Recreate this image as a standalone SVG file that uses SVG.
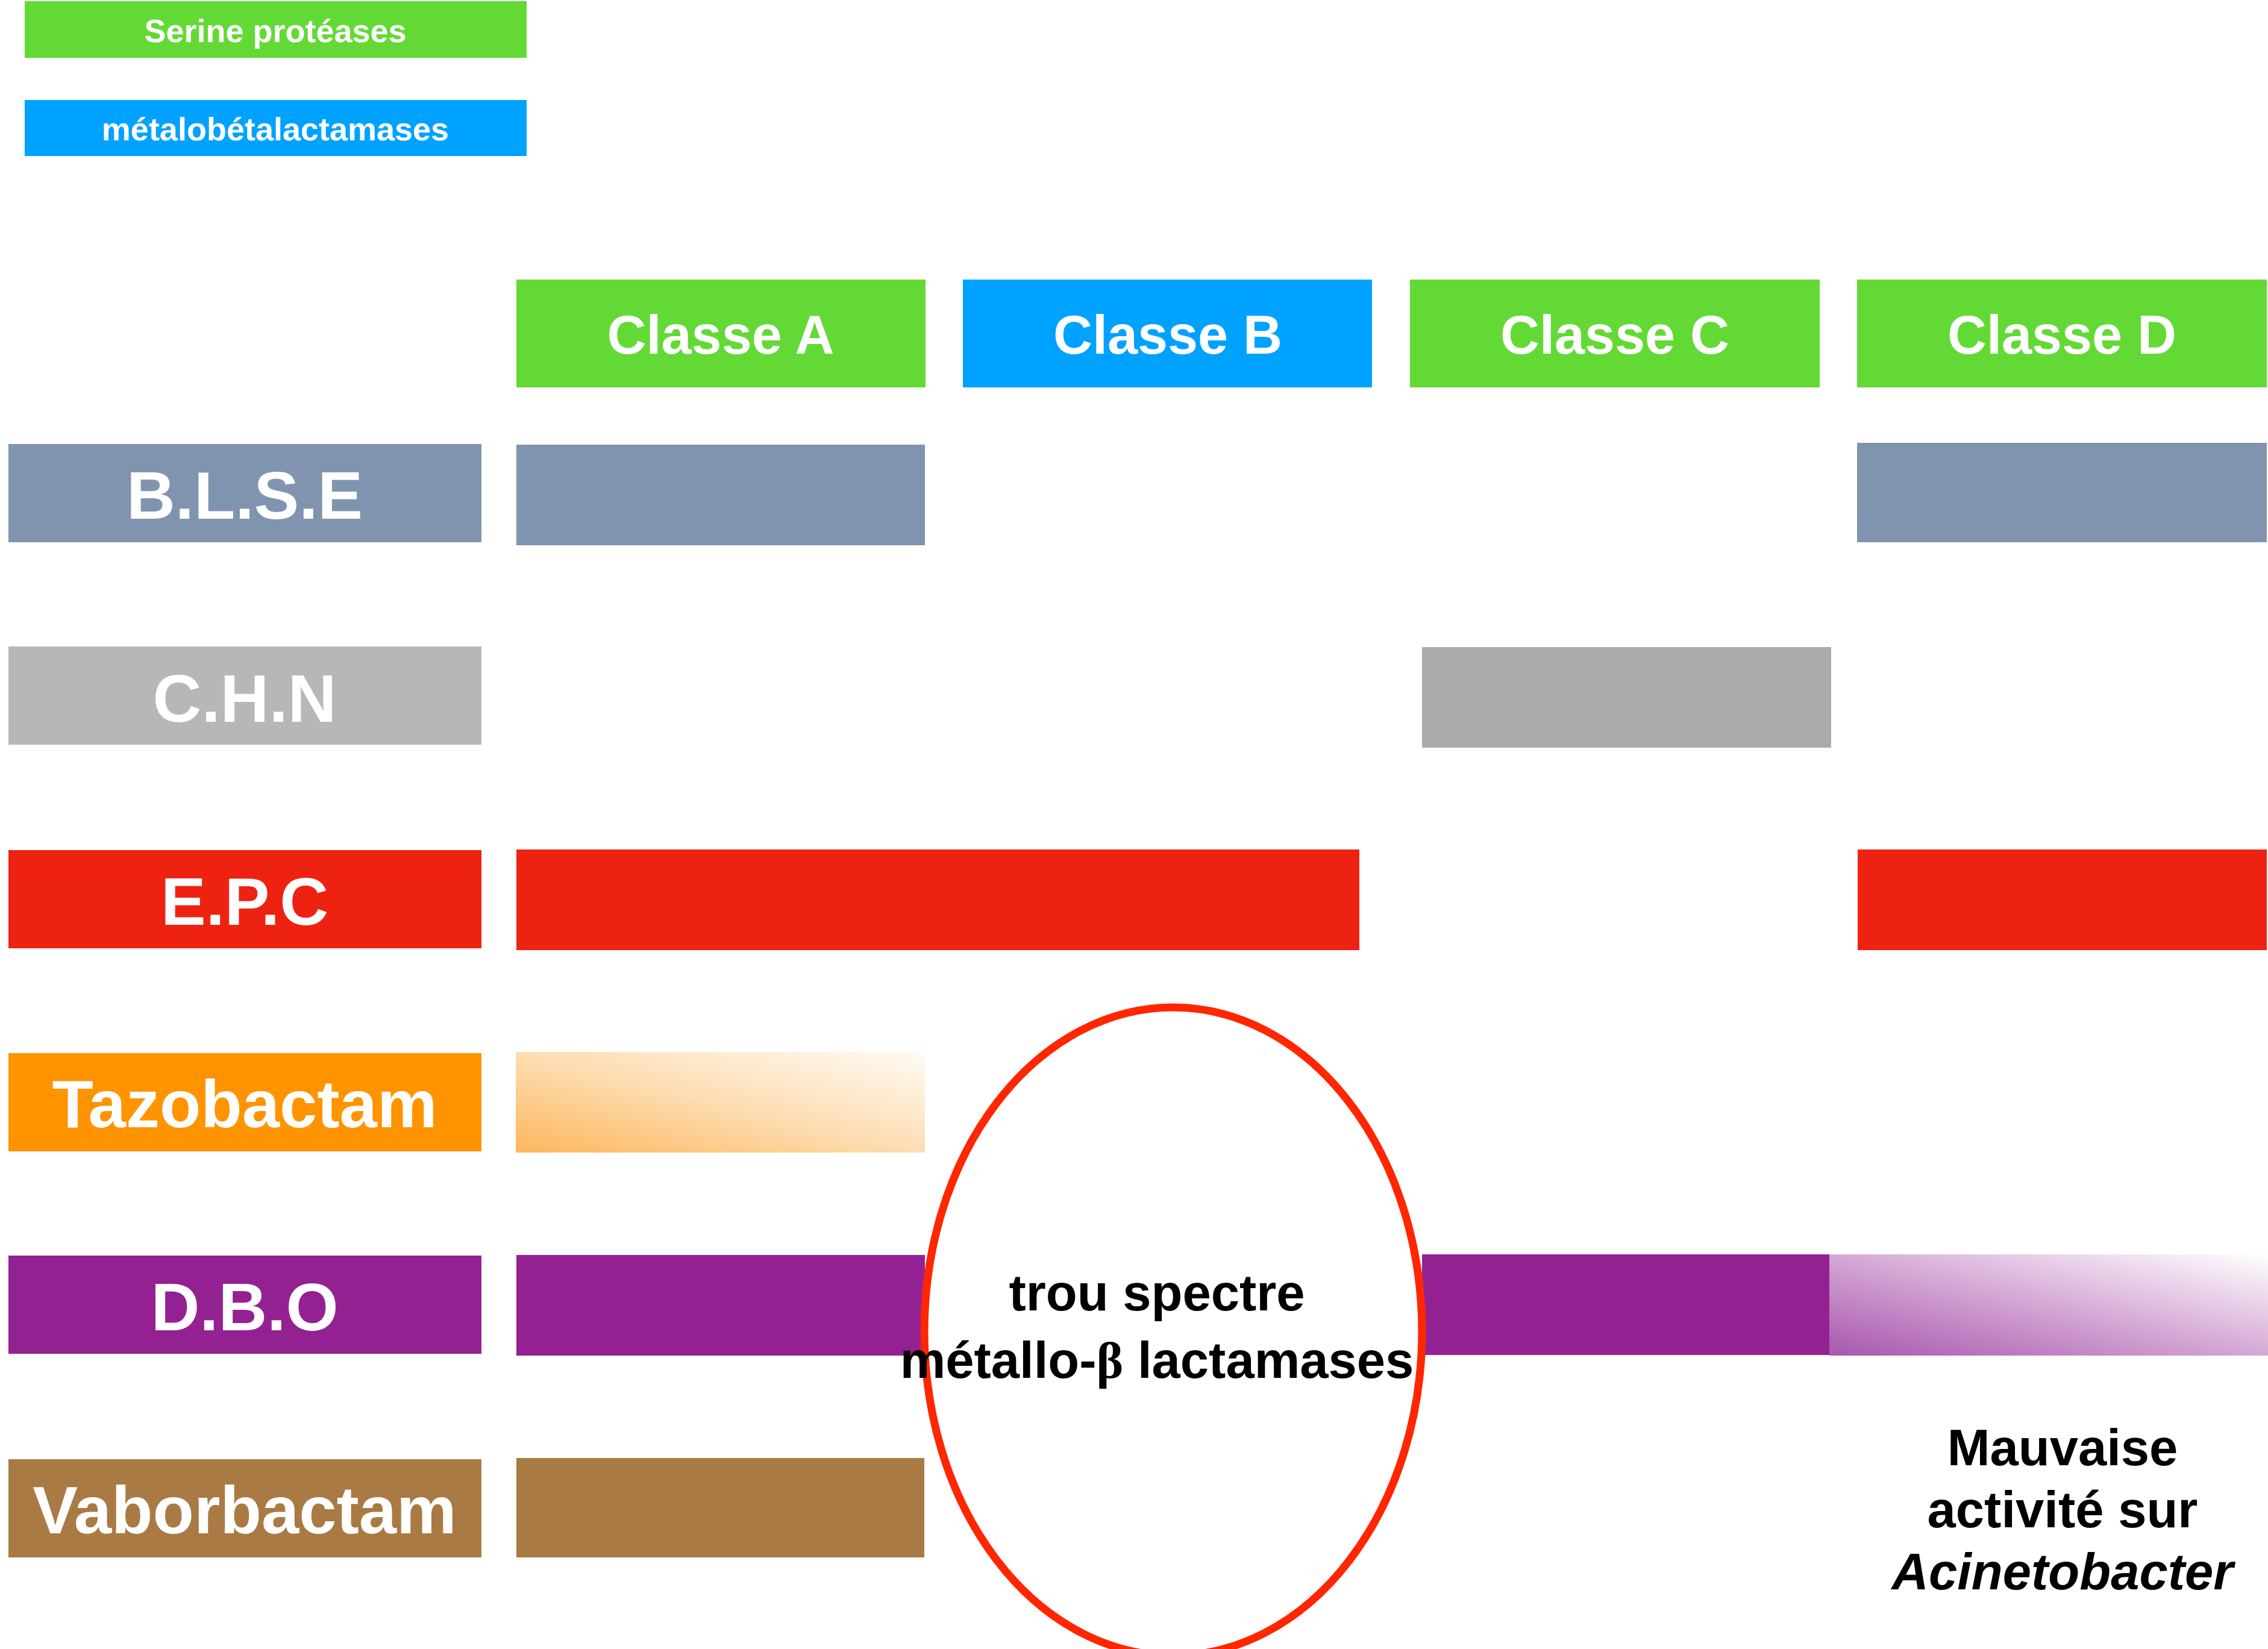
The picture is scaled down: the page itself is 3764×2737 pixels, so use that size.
<svg xmlns="http://www.w3.org/2000/svg" width="3764" height="2737" viewBox="0 0 3764 2737">
  <defs>
    <style>
      .lbl { font-family: "Liberation Sans", Arial, Helvetica, sans-serif; font-weight: bold; fill: #ffffff; text-anchor: middle; }
      .legend { font-size: 54px; }
      .head { font-size: 90px; }
      .row { font-size: 112px; }
      .note { font-family: "Liberation Sans", Arial, Helvetica, sans-serif; font-weight: bold; font-size: 85px; fill: #000000; text-anchor: middle; }
      .serine { fill: #63D936; }
      .metallo { fill: #00A2FF; }
      .blse { fill: #8194AF; }
      .chn-label { fill: #B7B7B7; }
      .chn-bar { fill: #AAAAAA; }
      .epc { fill: #EE2210; }
      .tazo { fill: #FF9300; }
      .dbo { fill: #942192; }
      .vabor { fill: #A97A44; }
    </style>
    <linearGradient id="tazoFade" x1="0" y1="1" x2="1" y2="0">
      <stop offset="0" stop-color="#FDB75C"/>
      <stop offset="0.5" stop-color="#FDDDB3"/>
      <stop offset="1" stop-color="#FFFBF5"/>
    </linearGradient>
    <linearGradient id="dboFade" x1="0" y1="1" x2="1" y2="0">
      <stop offset="0" stop-color="#A857AE"/>
      <stop offset="0.5" stop-color="#D5A8D5"/>
      <stop offset="1" stop-color="#FFFFFF"/>
    </linearGradient>
  </defs>

  <rect x="0" y="0" width="3764" height="2737" fill="#ffffff"/>

  <!-- legend -->
  <g id="legend-serine">
    <rect class="serine" x="41" y="2" width="833" height="94"/>
    <text class="lbl legend" x="457" y="70">Serine protéases</text>
  </g>
  <g id="legend-metallo">
    <rect class="metallo" x="41" y="166" width="833" height="93"/>
    <text class="lbl legend" x="457" y="233">métalobétalactamases</text>
  </g>

  <!-- class headers -->
  <g id="class-a">
    <rect class="serine" x="857" y="464" width="679" height="179"/>
    <text class="lbl head" x="1196" y="587">Classe A</text>
  </g>
  <g id="class-b">
    <rect class="metallo" x="1598" y="464" width="679" height="179"/>
    <text class="lbl head" x="1938" y="587">Classe B</text>
  </g>
  <g id="class-c">
    <rect class="serine" x="2340" y="464" width="680" height="179"/>
    <text class="lbl head" x="2680" y="587">Classe C</text>
  </g>
  <g id="class-d">
    <rect class="serine" x="3082" y="464" width="680" height="179"/>
    <text class="lbl head" x="3422" y="587">Classe D</text>
  </g>

  <!-- row labels -->
  <g id="row-blse">
    <rect class="blse" x="14" y="737" width="785" height="163"/>
    <text class="lbl row" x="406" y="861">B.L.S.E</text>
  </g>
  <g id="row-chn">
    <rect class="chn-label" x="14" y="1073" width="785" height="163"/>
    <text class="lbl row" x="406" y="1198">C.H.N</text>
  </g>
  <g id="row-epc">
    <rect class="epc" x="14" y="1411" width="785" height="163"/>
    <text class="lbl row" x="406" y="1535">E.P.C</text>
  </g>
  <g id="row-tazobactam">
    <rect class="tazo" x="14" y="1748" width="785" height="163"/>
    <text class="lbl row" x="406" y="1871">Tazobactam</text>
  </g>
  <g id="row-dbo">
    <rect class="dbo" x="14" y="2084" width="785" height="163"/>
    <text class="lbl row" x="406" y="2208">D.B.O</text>
  </g>
  <g id="row-vaborbactam">
    <rect class="vabor" x="14" y="2422" width="785" height="163"/>
    <text class="lbl row" x="406" y="2545">Vaborbactam</text>
  </g>

  <!-- activity bars -->
  <g id="bars-blse">
    <rect class="blse" x="857" y="738" width="678" height="167"/>
    <rect class="blse" x="3082" y="735" width="680" height="165"/>
  </g>
  <g id="bars-chn">
    <rect class="chn-bar" x="2360" y="1074" width="679" height="167"/>
  </g>
  <g id="bars-epc">
    <rect class="epc" x="857" y="1410" width="1399" height="167"/>
    <rect class="epc" x="3083" y="1410" width="679" height="167"/>
  </g>
  <g id="bars-tazobactam">
    <rect x="856" y="1746" width="679" height="167" fill="url(#tazoFade)"/>
  </g>
  <g id="bars-dbo">
    <rect class="dbo" x="857" y="2083" width="678" height="167"/>
    <rect class="dbo" x="2360" y="2082" width="677" height="167"/>
    <rect x="3036" y="2082" width="728" height="168" fill="url(#dboFade)"/>
  </g>
  <g id="bars-vaborbactam">
    <rect class="vabor" x="857" y="2420" width="677" height="165"/>
  </g>

  <!-- gap in the spectrum circled in red -->
  <g id="note-gap">
    <ellipse cx="1947" cy="2210" rx="413" ry="538" fill="none" stroke="#FF2600" stroke-width="13"/>
    <text class="note" x="1920" y="2175">trou spectre</text>
    <text class="note" x="1920" y="2287">métallo-<tspan font-family="'Liberation Serif', 'Times New Roman', serif">β</tspan> lactamases</text>
  </g>

  <!-- remark under class D -->
  <g id="note-acinetobacter">
    <text class="note" x="3423" y="2432">Mauvaise</text>
    <text class="note" x="3423" y="2535">activité sur</text>
    <text class="note" x="3423" y="2638" font-style="italic">Acinetobacter</text>
  </g>
</svg>
